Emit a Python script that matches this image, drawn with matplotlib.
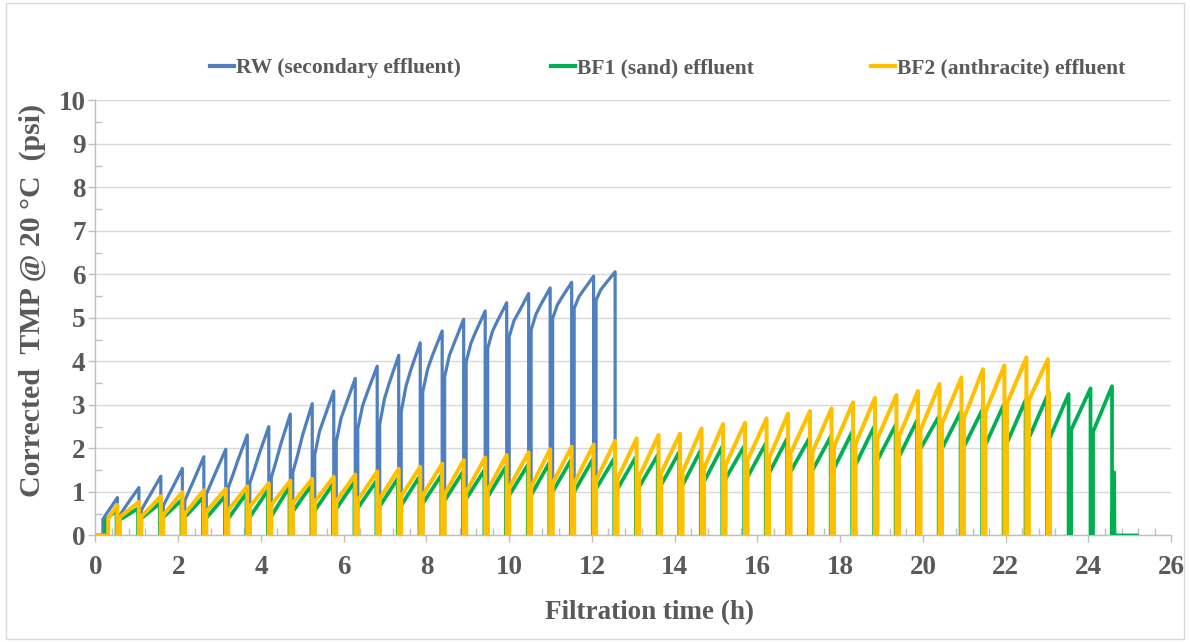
import matplotlib
matplotlib.use("Agg")
import matplotlib.pyplot as plt
from matplotlib.patches import Rectangle
from matplotlib.ticker import MultipleLocator

# End of each filtration cycle (backwash), h
drop_times = [0.53, 1.05, 1.58, 2.10, 2.62, 3.15, 3.67, 4.19, 4.71, 5.24,
              5.76, 6.28, 6.81, 7.33, 7.85, 8.38, 8.90, 9.42, 9.94, 10.47,
              10.99, 11.51, 12.04, 12.56, 13.08, 13.61, 14.13, 14.65, 15.17, 15.70,
              16.22, 16.74, 17.27, 17.79, 18.31, 18.84, 19.36, 19.88, 20.40, 20.93,
              21.45, 21.97, 22.50, 23.02, 23.54, 24.07, 24.59]
backwash = 0.06

# RW (secondary effluent): TMP at cycle start, 1/4, 1/2 and end of each run
rw_first = 0.18
rw_start = [0.37, 0.47, 0.58, 0.68, 0.80, 0.95, 1.10, 1.20, 1.33, 1.45, 1.85, 2.15,
            2.45, 2.55, 2.84, 3.30, 3.65, 3.99, 4.30, 4.57, 4.72, 4.99, 5.22, 5.41]
rw_quarter = [0.50, 0.63, 0.78, 0.90, 1.05, 1.21, 1.40, 1.53, 1.70, 1.85, 2.39, 2.69,
              2.98, 3.14, 3.43, 3.82, 4.14, 4.42, 4.69, 4.94, 5.08, 5.30, 5.49, 5.65]
rw_mid = [0.62, 0.79, 0.97, 1.11, 1.30, 1.47, 1.72, 1.88, 2.10, 2.30, 2.70, 3.00,
          3.30, 3.50, 3.80, 4.14, 4.42, 4.68, 4.92, 5.14, 5.30, 5.48, 5.65, 5.79]
rw_peak = [0.87, 1.10, 1.36, 1.54, 1.81, 1.98, 2.31, 2.50, 2.79, 3.03, 3.32, 3.61,
           3.89, 4.14, 4.43, 4.70, 4.97, 5.16, 5.35, 5.56, 5.69, 5.82, 5.96, 6.06]

# BF1 (sand) effluent
bf1_first = 0.24
bf1_start = [0.35, 0.35, 0.38, 0.40, 0.40, 0.38, 0.36, 0.39, 0.41, 0.52, 0.54, 0.58,
             0.60, 0.64, 0.66, 0.70, 0.77, 0.81, 0.85, 0.89, 0.89, 0.97, 0.97, 1.04,
             1.04, 1.08, 1.12, 1.12, 1.20, 1.27, 1.31, 1.39, 1.43, 1.46, 1.50, 1.58,
             1.69, 1.77, 1.96, 1.96, 2.00, 2.04, 2.08, 2.19, 2.23, 2.42, 2.38]
bf1_peak = [0.58, 0.62, 0.74, 0.81, 0.87, 0.90, 0.97, 1.04, 1.12, 1.16, 1.18, 1.23,
            1.25, 1.31, 1.35, 1.39, 1.46, 1.50, 1.58, 1.62, 1.67, 1.73, 1.75, 1.77,
            1.80, 1.85, 1.92, 1.96, 2.04, 2.05, 2.11, 2.23, 2.23, 2.27, 2.38, 2.50,
            2.54, 2.65, 2.73, 2.84, 2.88, 3.00, 3.11, 3.20, 3.25, 3.38, 3.43]
bf1_tail_t = [24.62, 24.63, 25.17]
bf1_tail_v = [1.45, 0.0, 0.0]

# BF2 (anthracite) effluent
bf2_first = 0.31
bf2_start = [0.39, 0.42, 0.43, 0.47, 0.50, 0.55, 0.58, 0.66, 0.70, 0.74, 0.77, 0.79,
             0.81, 0.85, 0.90, 0.92, 0.95, 1.00, 1.04, 1.10, 1.12, 1.20, 1.20, 1.27,
             1.31, 1.35, 1.43, 1.46, 1.54, 1.62, 1.73, 1.77, 1.89, 1.92, 2.04, 2.11,
             2.23, 2.27, 2.42, 2.57, 2.69, 2.84, 3.03, 3.11]
bf2_peak = [0.70, 0.77, 0.90, 1.00, 1.04, 1.07, 1.13, 1.20, 1.26, 1.30, 1.35, 1.40,
            1.47, 1.53, 1.58, 1.65, 1.73, 1.79, 1.85, 1.91, 1.98, 2.04, 2.09, 2.17,
            2.23, 2.31, 2.34, 2.46, 2.56, 2.59, 2.69, 2.80, 2.86, 2.92, 3.06, 3.16,
            3.23, 3.32, 3.48, 3.63, 3.82, 3.91, 4.09, 4.05]
bf2_tail_t = [23.04, 23.05]
bf2_tail_v = [3.30, 0.0]

TEXT = "#595959"
AXIS = "#bfbfbf"
GRID = "#d9d9d9"


def cycles(first, starts, peaks, inner=(), shift=0.0):
    """Build the filtration/backwash trace: rise during each run, drop to 0 at backwash.
    inner is a list of (fraction of run, values) pairs for points inside each run."""
    t, v = [0.0], [0.0]
    for i in range(len(starts)):
        t0 = first if i == 0 else drop_times[i - 1] + shift + backwash
        t1 = drop_times[i] + shift
        t += [t0, t0]
        v += [0.0, starts[i]]
        for frac, vals in inner:
            t.append(t0 + frac * (t1 - t0))
            v.append(vals[i])
        t += [t1, t1]
        v += [peaks[i], 0.0]
    return t, v


plt.rcParams['font.family'] = ['Liberation Serif', 'DejaVu Serif']
plt.rcParams['font.weight'] = 'bold'

fig = plt.figure(figsize=(11.9, 6.42), dpi=100)
ax = fig.add_axes([0.0802, 0.166, 0.9040, 0.6776])

t, v = cycles(rw_first, rw_start, rw_peak, inner=[(0.25, rw_quarter), (0.5, rw_mid)])
rw_line, = ax.plot(t, v, color="#4f7fbd", lw=2.3, label="RW (secondary effluent)", zorder=3)

t, v = cycles(bf1_first, bf1_start, bf1_peak, shift=-0.02)
bf1_line, = ax.plot(t + bf1_tail_t, v + bf1_tail_v, color="#00b050", lw=2.7,
                    label="BF1 (sand) effluent", zorder=4)

t, v = cycles(bf2_first, bf2_start, bf2_peak)
bf2_line, = ax.plot(t + bf2_tail_t, v + bf2_tail_v, color="#ffc000", lw=2.9,
                    label="BF2 (anthracite) effluent", zorder=5)

ax.set_xlim(0, 26)
ax.set_ylim(0, 10)
ax.xaxis.set_major_locator(MultipleLocator(2))
ax.xaxis.set_minor_locator(MultipleLocator(0.4))
ax.yaxis.set_major_locator(MultipleLocator(1))
ax.yaxis.set_minor_locator(MultipleLocator(0.5))

ax.grid(axis='y', which='major', color=GRID, lw=1.0, zorder=0)
ax.set_axisbelow(True)
for side in ('top', 'right'):
    ax.spines[side].set_visible(False)
for side in ('left', 'bottom'):
    ax.spines[side].set_color(AXIS)
    ax.spines[side].set_linewidth(1.0)

ax.tick_params(axis='both', which='major', direction='out', length=5, width=1,
               color=AXIS, labelcolor=TEXT, labelsize=19.5)
ax.tick_params(axis='x', which='major', pad=9)
ax.tick_params(axis='y', which='major', pad=2)
ax.tick_params(axis='both', which='minor', direction='in', length=5, width=1, color=AXIS)
for lab in ax.get_xticklabels() + ax.get_yticklabels():
    lab.set_fontweight('bold')

ax.set_xlabel("Filtration time (h)", fontsize=19.5, fontweight='bold', color=TEXT)
ax.xaxis.set_label_coords(0.515, -0.148)
ax.set_ylabel("Corrected  TMP @ 20 °C  (psi)", fontsize=21.5, fontweight='bold', color=TEXT)
ax.yaxis.set_label_coords(-0.0455, 0.54)

# one legend box per series so each entry sits where it should along the top
legend_x = [0.1765, 0.4630, 0.7320]
for handle, x in zip([rw_line, bf1_line, bf2_line], legend_x):
    leg = fig.legend(handles=[handle], loc='center left', bbox_to_anchor=(x, 0.894),
                     frameon=False, fontsize=15.5, handlelength=1.1, handletextpad=0.12,
                     borderaxespad=0, borderpad=0)
    leg.get_lines()[0].set_linewidth(3)
    for txt in leg.get_texts():
        txt.set_color(TEXT)
        txt.set_fontweight('bold')

fig.add_artist(Rectangle((0.005, 0.005), 0.99, 0.99, transform=fig.transFigure,
                         fill=False, edgecolor=GRID, lw=1.0))

fig.savefig("out.png", dpi=100)
